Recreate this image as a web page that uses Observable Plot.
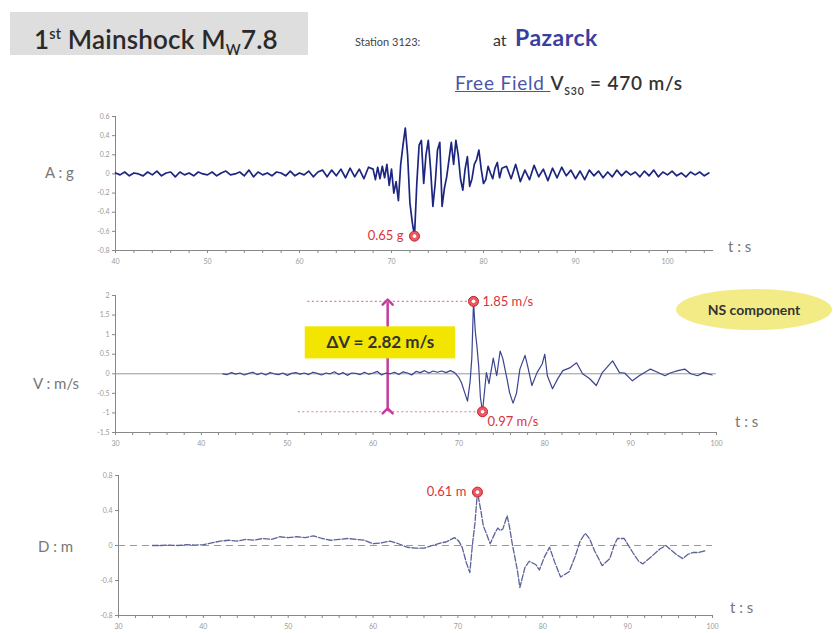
<!DOCTYPE html>
<html><head><meta charset="utf-8">
<script src="https://cdn.jsdelivr.net/npm/d3@7"></script>
<script src="https://cdn.jsdelivr.net/npm/@observablehq/plot@0.6"></script>
<style>
body{margin:0;background:#fff;font-family:Lato,"Open Sans",sans-serif;}
#root{position:relative;width:834px;height:633px;overflow:hidden;background:#fff;}
.abs{position:absolute;white-space:nowrap;}
.axt{font-size:15px;color:#777;}
sub,sup{font-size:55%;}
</style></head><body><div id="root">
<div class="abs" style="left:10px;top:12px;width:298px;height:43px;background:#dedede;"></div>
<div class="abs" style="left:34px;top:12px;height:43px;line-height:43px;font-size:26px;font-weight:600;color:#2a2a2a;letter-spacing:0.2px">1<sup>st</sup> Mainshock M<sub>W</sub>7.8</div>
<div class="abs" style="left:355px;top:35px;font-size:11px;color:#444">Station 3123:</div>
<div class="abs" style="left:493px;top:30px;font-size:16px;color:#333">at</div>
<div class="abs" style="left:515px;top:23px;font-size:23px;font-weight:bold;color:#3a3f9e;letter-spacing:0.5px">Pazarck</div>
<div class="abs" style="left:455px;top:71px;font-size:19px;color:#333;font-weight:600;letter-spacing:0.8px"><span style="color:#4a55a8;font-weight:normal;text-decoration:underline">Free Field </span> V<sub>S30</sub> = 470 m/s</div>
<div class="abs axt" style="left:45px;top:163px">A : g</div>
<div class="abs axt" style="left:33px;top:374px">V : m/s</div>
<div class="abs axt" style="left:38px;top:537px">D : m</div>
<div class="abs axt" style="left:728px;top:237px">t : s</div>
<div class="abs axt" style="left:735px;top:412px">t : s</div>
<div class="abs axt" style="left:730px;top:598px">t : s</div>
<div class="abs" style="left:676px;top:289px;width:156px;height:41px;border-radius:50%;background:#f3ec86;"></div>
<div class="abs" style="left:676px;top:289px;width:156px;height:41px;line-height:41px;text-align:center;font-size:14px;font-weight:bold;color:#333">NS component</div>
</div>
<script>
// ---------- Acceleration (g) ----------
const aQuietStart = 40, aQuietStep = 0.5;
const aQuiet = [0.01,-0.01,0.02,-0.02,0.01,0.00,-0.02,0.02,-0.01,0.03,
 -0.02,0.01,0.02,-0.03,0.02,-0.01,0.01,-0.02,0.02,0.00,
 -0.01,0.02,-0.02,0.01,0.03,-0.01,0.00,0.02,-0.02,0.04,
 -0.03,0.02,-0.01,0.01,-0.02,0.02,0.01,-0.02,0.03,-0.02,
 0.01,-0.01,0.03,-0.03,0.02,0.04,-0.03,0.04,-0.02,0.05,
 -0.04,0.06,-0.03,0.05,-0.05,0.07];
const aStrongStart = 68, aStrongStep = 0.25;
const aStrong = [0.05,-0.06,0.07,-0.05, 0.08,-0.04,0.10,-0.12, 0.05,-0.20,-0.08,-0.28,
 0.10,0.30,0.48,0.20, -0.30,-0.50,-0.65,-0.10, 0.30,0.35,-0.10,0.20, 0.35,0.05,-0.34,-0.10,
 0.25,0.33,-0.34,-0.15, -0.03,0.15,0.33,0.10, 0.35,0.20,-0.05,-0.17, 0.05,0.18,-0.13,-0.05,
 0.10,0.15,0.25,0.05, -0.10,-0.06,0.08,0.01, -0.05,0.06,0.12,-0.04, 0.06];
const aTailStart = 82.5, aTailStep = 0.5;
const aTail = [0.08,-0.05,0.10,-0.08,0.04,-0.06,0.09,-0.03,0.05,-0.07,
 0.06,-0.04,0.07,-0.02,0.04,-0.05,0.03,-0.06,0.04,-0.02,
 0.03,-0.04,0.02,-0.03,0.04,-0.02,0.03,-0.01,0.02,-0.03,
 0.03,-0.02,0.04,-0.03,0.02,-0.01,0.03,-0.02,0.01,-0.03,
 0.02,-0.01,0.02,-0.02,0.01];
const aXTicks = [40,50,60,70,80,90,100];
const aYTicks = [0.6,0.4,0.2,0,-0.2,-0.4,-0.6,-0.8];
const aPeakTime = [72.5], aPeakValue = [-0.65], aPeakLabel = ["0.65 g"];

// ---------- Velocity (m/s) ----------
const vQuietStart = 42.5, vQuietStep = 0.5;
const vQuiet = [0.00,-0.02,0.03,-0.01,0.02,-0.03,0.01,0.04,-0.02,0.02,
 -0.03,0.03,0.00,-0.02,0.02,-0.04,0.01,0.03,-0.01,0.02,
 -0.02,0.04,0.01,-0.03,0.02,0.00,0.05,-0.02,0.03,-0.04,
 0.02,0.01,-0.02,0.04,-0.01,0.02,0.06,-0.03,0.02,0.00,
 0.04,-0.02,0.05,0.02,-0.03,0.06,0.03,0.08,0.02,0.07,
 0.04,0.07,0.03];
const vStrongTime = [69,69.5,70,70.3,70.7,71,71.3,71.5,71.7,71.9,72.1,72.3,72.5,72.75,73,
 73.2,73.5,74,74.4,74.8,75.1,75.6,75.9,76.3,76.7,77.1,77.7,78,78.5,79.1,79.7,80,80.3,80.9,81.5,
 82.1,82.9,83.7,84.4,85.2,86,86.7,87.9,88.7,89.3,90.2,91,92.3,93,94,94.6,95.5,96.3,97,97.8,98.5,99.5];
const vStrongValue = [0.08,0.03,-0.10,-0.23,-0.50,-0.70,-0.20,0.40,1.85,1.10,0.70,0.20,-0.60,-0.97,-0.40,
 0.03,-0.25,0.40,-0.05,0.58,0.40,-0.13,-0.48,-0.75,-0.50,0.12,0.47,0.20,-0.30,0.03,0.25,0.50,-0.05,-0.38,-0.13,
 0.08,0.15,0.28,0.00,-0.12,-0.30,0.03,0.33,0.03,0.02,-0.18,-0.05,0.12,0.05,-0.05,0.02,0.08,0.12,0.00,-0.05,0.03,-0.03];
const vXTicks = [30,40,50,60,70,80,90,100];
const vYTicks = [2,1.5,1,0.5,0,-0.5,-1,-1.5];
const vPeakTime = [71.7, 72.75], vPeakValue = [1.85, -0.97], vPeakLabel = ["1.85 m/s", "0.97 m/s"];
const vGuideStart = [52.4, 51.3];
const deltaVLabel = ["ΔV = 2.82 m/s"];

// ---------- Displacement (m) ----------
const dQuietStart = 34, dQuietStep = 1;
const dQuiet = [0,0,0.005,0,0.01,0.005,0.01,0.03,0.05,0.06,0.05,0.07,0.06,0.08,0.07,0.10,0.09,0.10,0.09,0.11,
 0.08,0.06,0.07,0.08,0.07,0.06,0.02,0.03,0.05,0.02,-0.02,-0.03,-0.03,0.00,0.03];
const dStrongTime = [68.6,69.2,69.6,70.1,70.5,71,71.4,71.7,72,72.3,72.7,73,73.3,73.8,74.4,74.7,75,75.3,75.8,76.1,
 76.4,77,77.3,77.9,78.4,78.8,79.2,79.6,80.2,80.8,81.4,82.1,82.6,83.1,83.8,84.4,85,85.5,86.1,87,
 87.9,88.4,88.8,89.6,90.1,90.6,91.3,91.8,92.4,93,93.8,94.5,95.1,95.7,96.5,97.1,97.7,98.4,99.2];
const dStrongValue = [0.04,0.07,0.09,0.05,-0.02,-0.20,-0.31,0.00,0.25,0.61,0.40,0.22,0.15,0.02,0.15,0.20,0.17,0.19,0.34,0.20,
 0.02,-0.28,-0.48,-0.25,-0.18,-0.20,-0.22,-0.28,-0.13,-0.02,-0.19,-0.36,-0.33,-0.30,-0.13,0.05,0.14,0.08,-0.06,-0.23,
 -0.15,0.00,0.08,0.08,0.00,-0.08,-0.18,-0.21,-0.16,-0.11,-0.04,0.00,-0.05,-0.10,-0.15,-0.10,-0.08,-0.08,-0.06];
const dXTicks = [30,40,50,60,70,80,90,100];
const dYTicks = [0.8,0.4,0,-0.4,-0.8];
const dPeakTime = [72.3], dPeakValue = [0.61], dPeakLabel = ["0.61 m"];

// ---------- helpers ----------
const sampled = (start, step, vals) => vals.map((v, i) => ({t: start + i * step, v}));
const paired = (ts, vs) => ts.map((t, i) => ({t, v: vs[i]}));
const peaks = (ts, vs, ls) => ts.map((t, i) => ({t, v: vs[i], label: ls[i]}));

const aData = [...sampled(aQuietStart, aQuietStep, aQuiet), ...sampled(aStrongStart, aStrongStep, aStrong), ...sampled(aTailStart, aTailStep, aTail)];
const vData = [...sampled(vQuietStart, vQuietStep, vQuiet), ...paired(vStrongTime, vStrongValue)];
const dData = [...sampled(dQuietStart, dQuietStep, dQuiet), ...paired(dStrongTime, dStrongValue)];
const aPeaks = peaks(aPeakTime, aPeakValue, aPeakLabel);
const vPeaks = peaks(vPeakTime, vPeakValue, vPeakLabel).map((d, i) => ({...d, g: vGuideStart[i]}));
const dPeaks = peaks(dPeakTime, dPeakValue, dPeakLabel);

const RED = "#d9343e";
const style = {fontFamily: "Lato, sans-serif", fontSize: "7px", color: "#999", background: "transparent", overflow: "visible"};

function axes(xDom, yDom, xTicks, yTicks) {
  return [
    Plot.axisY(yTicks, {tickSize: 3, tickPadding: 3, fontSize: 7, fill: "#999", stroke: "#888", tickFormat: d => String(d), label: null}),
    Plot.axisX(d3.range(xDom[0], xDom[1] + 0.01, 2), {tickSize: 3, stroke: "#888", tickFormat: () => "", label: null}),
    Plot.axisX(xTicks, {tickSize: 0, tickPadding: 9, fontSize: 7, fill: "#999", tickFormat: d => String(d), label: null}),
    Plot.ruleX([xDom[0]], {y1: yDom[0], y2: yDom[1], stroke: "#888"}),
    Plot.ruleY([yDom[0]], {stroke: "#888"})
  ];
}
function peakMarks(data) {
  return [
    Plot.dot(data, {x: "t", y: "v", r: 5, fill: "#ea5a62", stroke: "#c8202a", strokeWidth: 1}),
    Plot.dot(data, {x: "t", y: "v", r: 1.8, fill: "#fff", stroke: "none"})
  ];
}
function place(svg, top) {
  const div = document.createElement("div");
  div.className = "abs";
  div.style.left = "0px"; div.style.top = top + "px";
  div.appendChild(svg);
  document.getElementById("root").appendChild(div);
}

// Panel A
const plotA = Plot.plot({
  width: 834, height: 168, marginTop: 16, marginBottom: 18, marginLeft: 115, marginRight: 121,
  x: {domain: [40, 105], label: null}, y: {domain: [-0.8, 0.6], label: null}, style,
  marks: [
    ...axes([40, 105], [-0.8, 0.6], aXTicks, aYTicks),
    Plot.line(aData, {x: "t", y: "v", stroke: "#1c2580", strokeWidth: 1.7}),
    ...peakMarks(aPeaks),
    Plot.text(aPeaks, {x: "t", y: "v", text: "label", textAnchor: "end", dx: -11, fill: RED, fontSize: 13})
  ]
});
place(plotA, 100);

// Panel V
const plotV = Plot.plot({
  width: 834, height: 170, marginTop: 15, marginBottom: 18, marginLeft: 115, marginRight: 118,
  x: {domain: [30, 100], label: null}, y: {domain: [-1.5, 2], label: null}, style,
  marks: [
    ...axes([30, 100], [-1.5, 2], vXTicks, vYTicks),
    Plot.ruleY([0], {stroke: "#999", strokeWidth: 1}),
    Plot.ruleY(vPeaks, {y: "v", x1: "g", x2: "t", stroke: "#d47cb8", strokeWidth: 1.2, strokeDasharray: "2,2.5"}),
    Plot.link(deltaVLabel, {x1: 61.7, x2: 61.7, y1: -0.95, y2: 1.83, stroke: "#c43d9e", strokeWidth: 2.5, markerStart: "arrow", markerEnd: "arrow"}),
    Plot.rect(deltaVLabel, {x1: 52.1, x2: 69.6, y1: 0.38, y2: 1.2, fill: "#f2e600"}),
    Plot.text(deltaVLabel, {x: 60.85, y: 0.79, text: d => d, fontSize: 17, fontWeight: "bold", fill: "#333"}),
    Plot.line(vData, {x: "t", y: "v", stroke: "#3a4490", strokeWidth: 1.2}),
    ...peakMarks(vPeaks),
    Plot.text(vPeaks.slice(0, 1), {x: "t", y: "v", text: "label", textAnchor: "start", dx: 9, fill: RED, fontSize: 13}),
    Plot.text(vPeaks.slice(1), {x: "t", y: "v", text: "label", textAnchor: "start", dx: 5, dy: 10, fill: RED, fontSize: 13})
  ]
});
place(plotV, 280);

// Panel D
const plotD = Plot.plot({
  width: 834, height: 170, marginTop: 15, marginBottom: 15, marginLeft: 118, marginRight: 122,
  x: {domain: [30, 100], label: null}, y: {domain: [-0.8, 0.8], label: null}, style,
  marks: [
    ...axes([30, 100], [-0.8, 0.8], dXTicks, dYTicks),
    Plot.ruleY([0], {stroke: "#999", strokeWidth: 1, strokeDasharray: "7,5"}),
    Plot.line(dData, {x: "t", y: "v", stroke: "#5c6298", strokeWidth: 1.3, strokeDasharray: "6,2"}),
    ...peakMarks(dPeaks),
    Plot.text(dPeaks, {x: "t", y: "v", text: "label", textAnchor: "end", dx: -11, fill: RED, fontSize: 13})
  ]
});
place(plotD, 460);
</script>
</body></html>
